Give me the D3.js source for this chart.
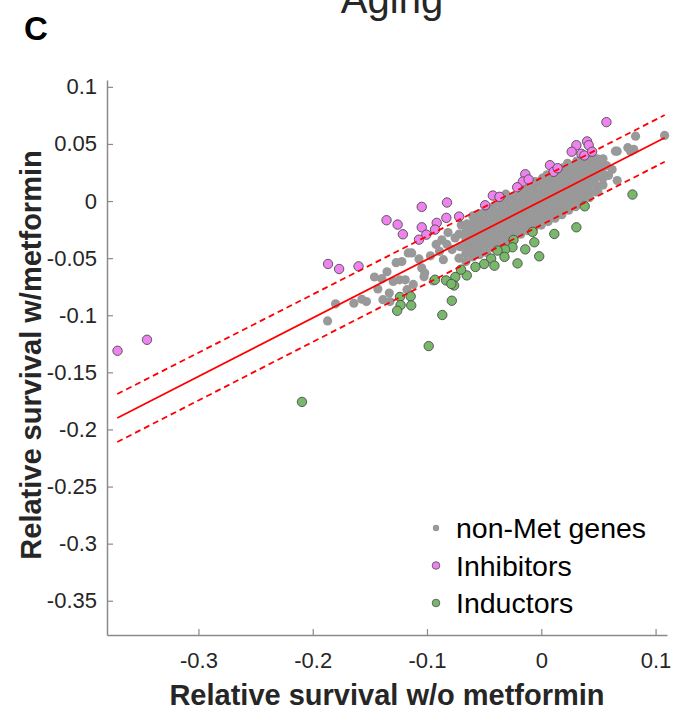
<!DOCTYPE html>
<html>
<head>
<meta charset="utf-8">
<script src="https://cdn.jsdelivr.net/npm/d3@7"></script>
<style>
    body { margin: 0; background: #fff; }
    text { font-family: "Liberation Sans", Arial, Helvetica, sans-serif; }
</style>
</head>
<body>
<div id="chart"></div>
<script>
// ---- data ----
const xTicks = [-0.3, -0.2, -0.1, 0, 0.1];
const yTicks = [0.1, 0.05, 0, -0.05, -0.1, -0.15, -0.2, -0.25, -0.3, -0.35];

// [survival w/o metformin, survival w/ metformin]
const nonMetGenes = [
    // scattered, left of the main cloud
    [-0.187, -0.105], [-0.180, -0.090], [-0.164, -0.0895], [-0.157, -0.086], [-0.153, -0.088],
    [-0.143, -0.077], [-0.146, -0.0665], [-0.1395, -0.068], [-0.135, -0.062], [-0.133, -0.0805],
    [-0.1325, -0.088], [-0.1386, -0.0864], [-0.127, -0.054], [-0.124, -0.069], [-0.119, -0.069],
    [-0.1175, -0.0776], [-0.122, -0.053], [-0.1164, -0.0454], [-0.1134, -0.0454], [-0.107, -0.0507],
    [-0.1046, -0.0586], [-0.102, -0.063], [-0.0945, -0.070], [-0.112, -0.073], [-0.1296, -0.0704],
    [-0.1026, -0.0662], [-0.089, -0.044], [-0.087, -0.034], [-0.0857, -0.0513], [-0.078, -0.0425],
    [-0.0754, -0.0323], [-0.0825, -0.038], [-0.092, -0.038], [-0.097, -0.048], [-0.0816, -0.0276],
    // main cloud
    [-0.072, -0.050], [-0.071, -0.040], [-0.072, -0.029], [-0.070, -0.021],
    [-0.066, -0.053], [-0.066, -0.046], [-0.065, -0.040], [-0.066, -0.034], [-0.066, -0.027], [-0.065, -0.020],
    [-0.060, -0.049], [-0.060, -0.043], [-0.061, -0.037], [-0.060, -0.031], [-0.060, -0.025], [-0.059, -0.018], [-0.060, -0.013],
    [-0.054, -0.047], [-0.054, -0.041], [-0.055, -0.035], [-0.054, -0.029], [-0.054, -0.023], [-0.053, -0.017], [-0.054, -0.011],
    [-0.048, -0.045], [-0.048, -0.038], [-0.049, -0.032], [-0.048, -0.026], [-0.048, -0.020], [-0.047, -0.014], [-0.048, -0.008],
    [-0.042, -0.041], [-0.042, -0.035], [-0.043, -0.029], [-0.042, -0.023], [-0.042, -0.017], [-0.041, -0.011], [-0.042, -0.005],
    [-0.036, -0.038], [-0.036, -0.032], [-0.037, -0.026], [-0.036, -0.020], [-0.036, -0.014], [-0.035, -0.008], [-0.036, -0.002],
    [-0.030, -0.035], [-0.030, -0.029], [-0.031, -0.023], [-0.030, -0.017], [-0.030, -0.011], [-0.029, -0.005], [-0.030, 0.001], [-0.031, 0.006],
    [-0.024, -0.032], [-0.024, -0.026], [-0.025, -0.020], [-0.024, -0.014], [-0.024, -0.008], [-0.023, -0.002], [-0.024, 0.004],
    [-0.018, -0.029], [-0.018, -0.023], [-0.019, -0.017], [-0.018, -0.011], [-0.018, -0.005], [-0.017, 0.001], [-0.018, 0.007], [-0.019, 0.012],
    [-0.012, -0.026], [-0.012, -0.020], [-0.013, -0.014], [-0.012, -0.008], [-0.012, -0.002], [-0.011, 0.004], [-0.012, 0.010],
    [-0.006, -0.023], [-0.006, -0.017], [-0.007, -0.011], [-0.006, -0.005], [-0.006, 0.001], [-0.005, 0.007], [-0.006, 0.013], [-0.005, 0.017],
    [0.000, -0.021], [0.000, -0.015], [-0.001, -0.009], [0.000, -0.003], [0.000, 0.003], [0.001, 0.009], [0.000, 0.015], [0.001, 0.020],
    [0.006, -0.018], [0.006, -0.012], [0.005, -0.006], [0.006, 0.000], [0.006, 0.006], [0.007, 0.012], [0.006, 0.018], [0.005, 0.023],
    [0.012, -0.015], [0.012, -0.009], [0.011, -0.003], [0.012, 0.003], [0.012, 0.009], [0.013, 0.015], [0.012, 0.021],
    [0.018, -0.012], [0.018, -0.006], [0.017, 0.000], [0.018, 0.006], [0.018, 0.012], [0.019, 0.018], [0.018, 0.024], [0.019, 0.029],
    [0.024, -0.008], [0.024, -0.002], [0.023, 0.004], [0.024, 0.010], [0.024, 0.016], [0.025, 0.022], [0.024, 0.028], [0.023, 0.033],
    [0.030, -0.005], [0.030, 0.001], [0.029, 0.007], [0.030, 0.013], [0.030, 0.019], [0.031, 0.025], [0.030, 0.031], [0.031, 0.035],
    [0.036, -0.001], [0.036, 0.005], [0.035, 0.011], [0.036, 0.017], [0.036, 0.023], [0.037, 0.029], [0.036, 0.035],
    [0.042, 0.003], [0.042, 0.009], [0.041, 0.015], [0.042, 0.021], [0.042, 0.027], [0.043, 0.033], [0.042, 0.038],
    [0.048, 0.008], [0.048, 0.014], [0.047, 0.020], [0.048, 0.026], [0.048, 0.032], [0.049, 0.037],
    [0.054, 0.014], [0.054, 0.020], [0.053, 0.026], [0.054, 0.032], [0.054, 0.037],
    // in-between fill for the densest part
    [-0.063, -0.043], [-0.057, -0.039], [-0.051, -0.035], [-0.045, -0.031], [-0.039, -0.028],
    [-0.033, -0.025], [-0.027, -0.022], [-0.021, -0.019], [-0.015, -0.016], [-0.009, -0.013],
    [-0.003, -0.010], [0.003, -0.007], [0.009, -0.004], [0.015, -0.001], [0.021, 0.002],
    [0.027, 0.005], [0.033, 0.008], [0.039, 0.012], [0.045, 0.017], [0.051, 0.023],
    [-0.063, -0.024], [-0.057, -0.021], [-0.051, -0.018], [-0.045, -0.014], [-0.039, -0.011],
    [-0.033, -0.008], [-0.027, -0.005], [-0.021, -0.002], [-0.015, 0.001], [-0.009, 0.004],
    [-0.003, 0.007], [0.003, 0.011], [0.009, 0.014], [0.015, 0.018], [0.021, 0.021],
    [0.027, 0.024], [0.033, 0.027], [0.039, 0.030], [0.045, 0.031], [0.051, 0.034],
    // scattered, right end
    [0.0664, 0.0437], [0.0757, 0.0467], [0.0781, 0.0437], [0.0825, 0.0568], [0.1079, 0.0575],
    [0.0620, 0.0276], [0.0664, 0.0180], [0.0494, 0.0086], [0.0649, 0.0437], [0.0810, 0.0452],
    [0.0570, 0.0311], [0.0588, 0.0224], [0.0518, 0.0364]
];

const inhibitors = [
    [0.0570, 0.0691], [0.0307, 0.0489], [0.0401, 0.0522], [0.0415, 0.0489], [0.0266, 0.0432],
    [0.0351, 0.0414], [0.0377, 0.0399], [0.0445, 0.0432], [0.0076, 0.0314], [0.0108, 0.0256],
    [0.0143, 0.0288], [-0.0140, 0.0235], [-0.0161, 0.0171], [-0.0111, 0.0189], [-0.0211, 0.0121],
    [-0.0424, 0.0048], [-0.0366, 0.0037], [-0.0491, -0.0037], [-0.0825, -0.0013], [-0.1046, -0.0051],
    [-0.1354, -0.0168], [-0.1257, -0.0206], [-0.1211, -0.0291], [-0.1046, -0.0230], [-0.0831, -0.0147],
    [-0.0719, -0.0136], [-0.0915, -0.0191], [-0.0930, -0.0250], [-0.1006, -0.0294], [-0.1070, -0.0338],
    [-0.1866, -0.0551], [-0.1769, -0.0595], [-0.1599, -0.0572], [-0.3708, -0.1311], [-0.3450, -0.1215]
];

const inductors = [
    [0.0798, 0.0057], [0.0380, -0.0046], [0.0307, -0.0230], [0.0114, -0.0288], [-0.0076, -0.0270],
    [-0.0061, -0.0361], [-0.0018, -0.0484], [-0.0140, -0.0423], [-0.0208, -0.0546], [-0.0243, -0.0340],
    [-0.0252, -0.0405], [-0.0316, -0.0425], [-0.0322, -0.0489], [-0.0383, -0.0434], [-0.0439, -0.0504],
    [-0.0410, -0.0566], [-0.0500, -0.0551], [-0.0576, -0.0577], [-0.0652, -0.0651], [-0.0702, -0.0601],
    [-0.0752, -0.0665], [-0.0763, -0.0739], [-0.0833, -0.0695], [-0.0787, -0.0726], [-0.0930, -0.0689],
    [-0.0783, -0.0873], [-0.0866, -0.0998], [-0.0985, -0.1270], [-0.1143, -0.0835], [-0.1237, -0.0840],
    [-0.1138, -0.0914], [-0.1231, -0.0911], [-0.1261, -0.0961], [-0.2094, -0.1759]
];

// regression line and its band
const fitLine = [[-0.371, -0.190], [0.108, 0.0554]];
const upperBound = [[-0.371, -0.169], [0.108, 0.0753]];
const lowerBound = [[-0.371, -0.211], [0.108, 0.0344]];

const legendLabels = ["non-Met genes", "Inhibitors", "Inductors"];

// ---- layout ----
const width = 673, height = 711;
const margin = { left: 107, right: 6, top: 80, bottom: 76 };

const svg = d3.select("#chart").append("svg")
    .attr("width", width)
    .attr("height", height);

const x = d3.scaleLinear().domain([-0.38, 0.11]).range([margin.left, width - margin.right]);
const y = d3.scaleLinear().domain([-0.38, 0.106]).range([height - margin.bottom, margin.top]);

const axisColor = "#8a8a8a";
const labelColor = "#262626";

// axes (ticks pointing inwards, no box)
const xAxis = svg.append("g")
    .attr("transform", "translate(0," + (height - margin.bottom) + ")")
    .call(d3.axisBottom(x).tickValues(xTicks).tickFormat(d => String(d))
        .tickSizeInner(-6).tickSizeOuter(0).tickPadding(17));

const yAxis = svg.append("g")
    .attr("transform", "translate(" + margin.left + ",0)")
    .call(d3.axisLeft(y).tickValues(yTicks).tickFormat(d => String(d))
        .tickSizeInner(-6).tickSizeOuter(0).tickPadding(10));

[xAxis, yAxis].forEach(g => {
    g.select(".domain").attr("stroke", axisColor).attr("stroke-width", 1.5);
    g.selectAll(".tick line").attr("stroke", axisColor).attr("stroke-width", 1.2);
    g.selectAll(".tick text")
        .attr("fill", labelColor)
        .style("font-size", "22px");
});

// points
svg.append("g").selectAll("circle")
    .data(nonMetGenes)
    .enter()
    .append("circle")
    .attr("cx", d => x(d[0]))
    .attr("cy", d => y(d[1]))
    .attr("r", 4.6)
    .attr("fill", "#999999");

const drawGroup = (data, fill) => {
    svg.append("g").selectAll("circle")
        .data(data)
        .enter()
        .append("circle")
        .attr("cx", d => x(d[0]))
        .attr("cy", d => y(d[1]))
        .attr("r", 4.7)
        .attr("fill", fill)
        .attr("stroke", "#4d4d4d")
        .attr("stroke-width", 0.9);
};
drawGroup(inhibitors, "#ee82ee");
drawGroup(inductors, "#77b86a");

// fit line and dashed band
const line = d3.line().x(d => x(d[0])).y(d => y(d[1]));
svg.append("path").datum(fitLine)
    .attr("d", line).attr("fill", "none")
    .attr("stroke", "#ff0000").attr("stroke-width", 1.8);
[upperBound, lowerBound].forEach(b => {
    svg.append("path").datum(b)
        .attr("d", line).attr("fill", "none")
        .attr("stroke", "#ff0000").attr("stroke-width", 1.8)
        .attr("stroke-dasharray", "6,4");
});

// legend
const legendStyles = [
    { fill: "#999999", stroke: "none", r: 3.2 },
    { fill: "#ee82ee", stroke: "#4d4d4d", r: 3.8 },
    { fill: "#77b86a", stroke: "#4d4d4d", r: 3.8 }
];
const legend = svg.append("g");
legendLabels.forEach((label, i) => {
    const ly = 528 + i * 37.5;
    legend.append("circle")
        .attr("cx", 436).attr("cy", ly)
        .attr("r", legendStyles[i].r)
        .attr("fill", legendStyles[i].fill)
        .attr("stroke", legendStyles[i].stroke)
        .attr("stroke-width", 0.8);
    legend.append("text")
        .attr("x", 456).attr("y", ly)
        .attr("dy", "0.36em")
        .style("font-size", "28.5px")
        .attr("fill", "#000")
        .text(label);
});

// titles and labels
svg.append("text")
    .attr("x", 392).attr("y", 13)
    .attr("text-anchor", "middle")
    .style("font-size", "40px")
    .attr("fill", labelColor)
    .text("Aging");

svg.append("text")
    .attr("x", 24).attr("y", 40)
    .style("font-size", "33px")
    .style("font-weight", "bold")
    .attr("fill", "#000")
    .text("C");

svg.append("text")
    .attr("x", 387).attr("y", 705)
    .attr("text-anchor", "middle")
    .style("font-size", "29px")
    .style("font-weight", "bold")
    .attr("fill", labelColor)
    .text("Relative survival w/o metformin");

svg.append("text")
    .attr("transform", "translate(41," + 355 + ") rotate(-90)")
    .attr("text-anchor", "middle")
    .style("font-size", "29px")
    .style("font-weight", "bold")
    .attr("fill", labelColor)
    .text("Relative survival w/metformin");
</script>
</body>
</html>
